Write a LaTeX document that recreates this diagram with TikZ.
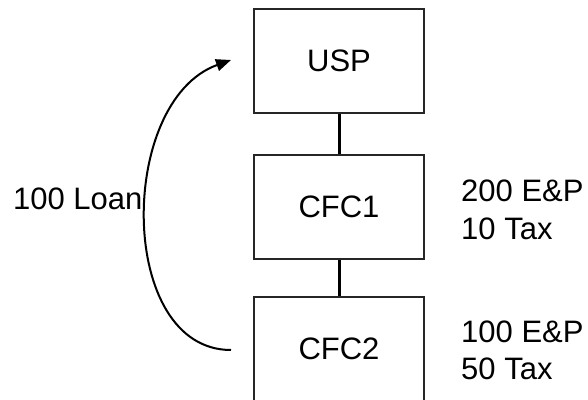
\documentclass[tikz,border=0pt]{standalone}
\usepackage{fontspec}
\setmainfont{Liberation Sans}
\usetikzlibrary{arrows.meta}
\begin{document}
\begin{tikzpicture}[x=1pt,y=-1pt,
  every node/.style={font=\fontsize{31}{37.5}\selectfont},
  entity/.style={draw=black!85, line width=2pt, fill=white,
    minimum width=170pt, minimum height=104pt, inner sep=0pt},
  link/.style={line width=3pt, black},
  loanarrow/.style={line width=2pt, black, -{Triangle[length=15pt,width=12pt]}},
  note/.style={anchor=base west, inner sep=0pt, align=left}]
  \useasboundingbox (0,0) rectangle (588,399);
  \clip (0,0) rectangle (588,399);

  % ownership chain
  \node[entity] (usp)  at (339,61)  {USP};
  \node[entity] (cfc1) at (339,207) {CFC1};
  \node[entity] (cfc2) at (339,349) {CFC2};
  \draw[link] (usp.south) -- (cfc1.north);
  \draw[link] (cfc1.south) -- (cfc2.north);

  % earnings and taxes beside each subsidiary (anchored on the last line)
  \node[note] (n1) at (461,239) {200 E\&P\\10 Tax};
  \node[note] (n2) at (461,379.5) {100 E\&P\\50 Tax};

  % loan from the lower subsidiary up to the parent
  \draw[loanarrow] ([xshift=-22pt,yshift=-1pt]cfc2.west)
    .. controls +(-114,0) and +(-114,41) .. ([xshift=-22pt,yshift=1pt]usp.west);
  \node[anchor=base west, inner sep=0pt] (loan) at (13,209.3) {100 Loan};
\end{tikzpicture}
\end{document}
